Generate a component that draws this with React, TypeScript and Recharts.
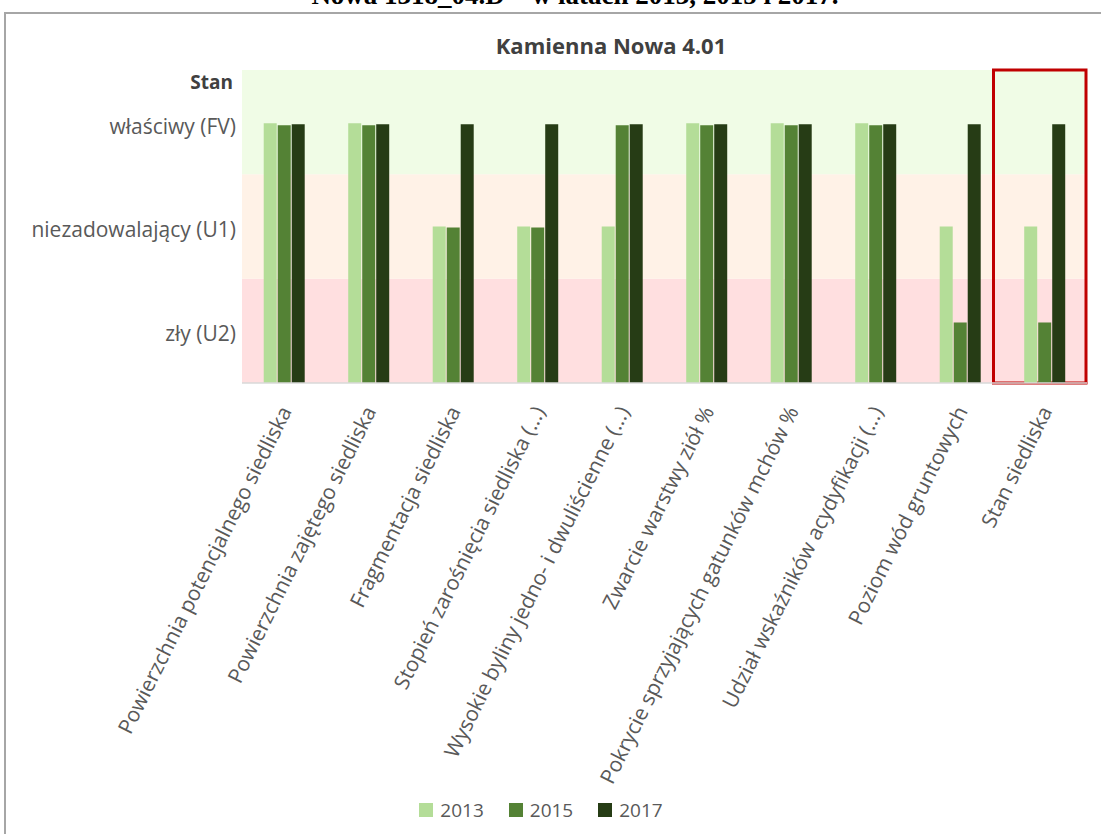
import { BarChart, Bar, XAxis, YAxis, ReferenceArea, Legend } from "recharts"

const categories = [
  "Powierzchnia potencjalnego siedliska",
  "Powierzchnia zajętego siedliska",
  "Fragmentacja siedliska",
  "Stopień zarośnięcia  siedliska (...)",
  "Wysokie byliny jedno- i dwuliścienne (...)",
  "Zwarcie warstwy ziół %",
  "Pokrycie sprzyjających gatunków mchów %",
  "Udział wskaźników acydyfikacji (...)",
  "Poziom wód gruntowych",
  "Stan siedliska",
]

// 2.5 ≈ FV, 1.5 ≈ U1, 0.6 ≈ U2
const values2013 = [2.49, 2.49, 1.5, 1.5, 1.5, 2.49, 2.49, 2.49, 1.5, 1.5]
const values2015 = [2.47, 2.47, 1.49, 1.49, 2.47, 2.47, 2.47, 2.47, 0.58, 0.58]
const values2017 = [2.48, 2.48, 2.48, 2.48, 2.48, 2.48, 2.48, 2.48, 2.48, 2.48]

const yTickValues = [0.47, 1.47, 2.46, 2.88]
const yTickLabels = ["zły (U2)", "niezadowalający (U1)", "właściwy (FV)", "Stan"]

const data = categories.map((name, i) => ({
  name,
  y2013: values2013[i],
  y2015: values2015[i],
  y2017: values2017[i],
}))

const FONT = "'Open Sans', sans-serif"

const XTick = ({ x, y, payload }: any) => (
  <g transform={`translate(${x + 8},${y + 28})`}>
    <text textAnchor="end" transform="rotate(-63.5)" fill="#595959" fontSize={21} fontFamily={FONT}>
      {payload.value}
    </text>
  </g>
)

const YTick = ({ x, y, payload, index }: any) => {
  const label = yTickLabels[index]
  const bold = label === "Stan"
  return (
    <text
      x={bold ? x - 3 : x}
      y={y}
      dy="0.355em"
      textAnchor="end"
      fill={bold ? "#404040" : "#595959"}
      fontWeight={bold ? 700 : 400}
      fontSize={bold ? 19 : 21}
      fontFamily={FONT}
    >
      {label}
    </text>
  )
}

const renderLegend = ({ payload }: any) => (
  <div style={{ display: "flex", justifyContent: "center", gap: 25, fontFamily: FONT, fontSize: 19, color: "#595959" }}>
    {payload.map((p: any) => (
      <span key={p.value} style={{ display: "flex", alignItems: "center" }}>
        <span style={{ width: 14, height: 14, background: p.color, marginRight: 7, display: "inline-block" }} />
        {p.value}
      </span>
    ))}
  </div>
)

const redBox = (props: any) => (
  <rect
    x={props.x - 9}
    y={props.y}
    width={props.width + 8}
    height={props.height}
    fill="none"
    stroke="#c00000"
    strokeWidth={3}
  />
)

export default function App() {
  return (
    <div style={{ position: "absolute", left: 0, top: 0, width: 1101, height: 834, overflow: "hidden", background: "#fff" }}>
      <div
        style={{
          position: "absolute",
          top: -18,
          left: 290,
          width: 570,
          textAlign: "center",
          fontFamily: "'Liberation Serif', serif",
          fontWeight: 700,
          fontSize: 27,
          lineHeight: "27px",
          whiteSpace: "nowrap",
        }}
      >
        Nowa 1318_04.D – w latach 2013, 2015 i 2017.
      </div>
      <div style={{ position: "absolute", left: 4, top: 12, width: 1200, height: 900, border: "2px solid #a6a6a6" }} />
      <div
        style={{
          position: "absolute",
          top: 30,
          left: 0,
          width: 1222,
          textAlign: "center",
          fontFamily: FONT,
          fontWeight: 700,
          fontSize: 22,
          color: "#404040",
        }}
      >
        Kamienna Nowa 4.01
      </div>
      <div style={{ position: "absolute", left: 0, top: 0 }}>
        <BarChart
          width={1101}
          height={834}
          data={data}
          margin={{ top: 70, right: 14, left: 0, bottom: 0 }}
          barCategoryGap="25.7%"
          barGap={1}
        >
          <ReferenceArea y1={0} y2={1} fill="#ffdfe0" fillOpacity={1} stroke="none" />
          <ReferenceArea y1={1} y2={2} fill="#fff2e7" fillOpacity={1} stroke="none" />
          <ReferenceArea y1={2} y2={3} fill="#f0fce6" fillOpacity={1} stroke="none" />
          <XAxis
            dataKey="name"
            interval={0}
            height={451}
            tickLine={false}
            tickSize={0}
            tickMargin={0}
            axisLine={{ stroke: "#d9d9d9", strokeWidth: 1.5 }}
            tick={<XTick />}
          />
          <YAxis
            type="number"
            domain={[0, 3]}
            ticks={yTickValues}
            width={242}
            axisLine={false}
            tickLine={false}
            tickSize={0}
            tickMargin={6}
            tick={<YTick />}
          />
          <Bar dataKey="y2013" name="2013" fill="#b4dd98" isAnimationActive={false} />
          <Bar dataKey="y2015" name="2015" fill="#548235" isAnimationActive={false} />
          <Bar dataKey="y2017" name="2017" fill="#263c15" isAnimationActive={false} />
          <ReferenceArea x1="Stan siedliska" x2="Stan siedliska" y1={0} y2={3} shape={redBox} />
          <Legend
            verticalAlign="middle"
            align="center"
            content={renderLegend}
            wrapperStyle={{ top: 797, left: 0, width: 1082 }}
          />
        </BarChart>
      </div>
    </div>
  )
}
